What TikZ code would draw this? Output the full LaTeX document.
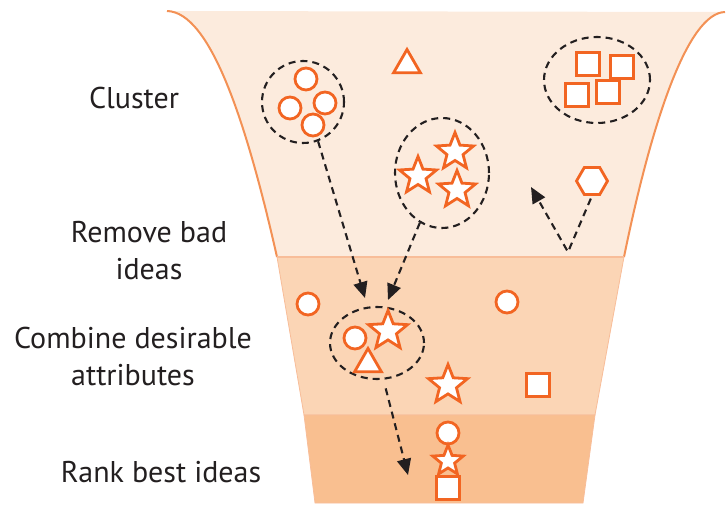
\documentclass[tikz,border=0pt]{standalone}
\usepackage{fontspec}
\setsansfont{PT Sans}
\usepackage{tikz}
\usepackage{xcolor}
\usetikzlibrary{positioning, shapes, shapes.geometric, arrows.meta, calc}
\definecolor{ideaorange}{HTML}{F26522}
\definecolor{bandtop}{HTML}{FCEBDD}
\definecolor{bandmid}{HTML}{FBD5B5}
\definecolor{bandlow}{HTML}{F9BF90}
\definecolor{rimorange}{HTML}{F39155}
\definecolor{inkgray}{HTML}{231F20}
\tikzset{
    idea/.style={draw=ideaorange, fill=white, line width=2.8pt, inner sep=0pt},
    dot/.style={idea, circle, minimum size=22pt},
    box/.style={idea, rectangle, minimum size=23pt},
    starry/.style={idea, star, star points=5, star point ratio=2.3, minimum size=39pt},
    tri/.style={idea, regular polygon, regular polygon sides=3, minimum size=31pt},
    hexa/.style={idea, regular polygon, regular polygon sides=6, minimum size=31pt},
    group/.style={ellipse, draw=inkgray, line width=2.1pt, dash pattern=on 7pt off 5pt, inner sep=0pt},
    flow/.style={draw=inkgray, line width=2.1pt, dash pattern=on 7pt off 5pt, -{Triangle[length=16pt, width=14pt]}},
    steplabel/.style={font=\sffamily\fontsize{30}{37}\selectfont, text=inkgray, align=center}
}

\begin{document}
\begin{tikzpicture}[x=1pt, y=-1pt]
\useasboundingbox (0,0) rectangle (728,505);

% Funnel bands
\fill[bandtop] (167,11) -- (725,12) .. controls (688,13) and (652,120) .. (624,257)
    -- (277,257) .. controls (246,120) and (210,12) .. (167,11) -- cycle;
\draw[rimorange, line width=2pt] (167,11) .. controls (210,12) and (246,120) .. (277,257);
\draw[rimorange, line width=2pt] (725,12) .. controls (688,13) and (652,120) .. (624,257);
\filldraw[fill=bandmid, draw=rimorange!60, line width=0.8pt] (277,257) -- (624,257) -- (595,415) -- (304,415) -- cycle;
\filldraw[fill=bandlow, draw=rimorange!60, line width=0.8pt] (304,415) -- (595,415) -- (583,503) -- (315,503) -- cycle;
\draw[rimorange!60, line width=2pt] (277,257) -- (624,257);

% Step labels
\node[steplabel] (cluster) at (134,98) {Cluster};
\node[steplabel] (remove) at (149,251) {Remove bad\\ideas};
\node[steplabel] (combine) at (133,356) {Combine desirable\\attributes};
\node[steplabel] (rank) at (161,472) {Rank best ideas};

% Clustered ideas
\node[group, minimum width=82pt, minimum height=82pt] (circgroup) at (303,102) {};
\node[dot] (c1) at (306,79) {};
\node[dot] (c2) at (290,108) {};
\node[dot] (c3) at (325,103) {};
\node[dot] (c4) at (313,125) {};

\node[group, minimum width=94pt, minimum height=110pt] (stargroup) at (442,173) {};
\node[starry] (s1) at (418,176) {};
\node[starry] (s2) at (455,152) {};
\node[starry] (s3) at (457,190) {};

\node[group, minimum width=106pt, minimum height=86pt] (boxgroup) at (597,80) {};
\node[box] (b1) at (588,64) {};
\node[box] (b2) at (622,67) {};
\node[box] (b3) at (577,95) {};
\node[box] (b4) at (608,92) {};

\node[tri] (t1) at (407,65) {};
\node[hexa] (h1) at (592,181) {};

% Combined ideas
\node[group, minimum width=94pt, minimum height=72pt] (mixgroup) at (377,343) {};
\node[dot] (m1) at (355,338) {};
\node[starry, minimum size=41pt] (m2) at (388,331) {};
\node[tri] (m3) at (368,364) {};

\node[dot] (d1) at (308,304) {};
\node[dot] (d2) at (507,302) {};
\node[starry, minimum size=41pt] (d3) at (448,385) {};
\node[box] (d4) at (538,385) {};

% Ranked ideas
\node[dot] (r1) at (448,433) {};
\node[starry, minimum size=32pt] (r2) at (448,461) {};
\node[box] (r3) at (448,488) {};

% Arrows
\coordinate (circend) at (365,298);
\coordinate (starend) at (388,300);
\coordinate (vbend) at (568,252);
\coordinate (hexend) at (531,187);
\coordinate (rankend) at (408,475);

\draw[flow] (circgroup.-69) -- (circend);
\draw[flow] (stargroup.-114) -- (starend);
\draw[flow, shorten <=3pt] (h1.south) -- (vbend) -- (hexend);
\draw[flow, shorten <=9pt] (mixgroup.-80) -- (rankend);
\end{tikzpicture}
\end{document}
